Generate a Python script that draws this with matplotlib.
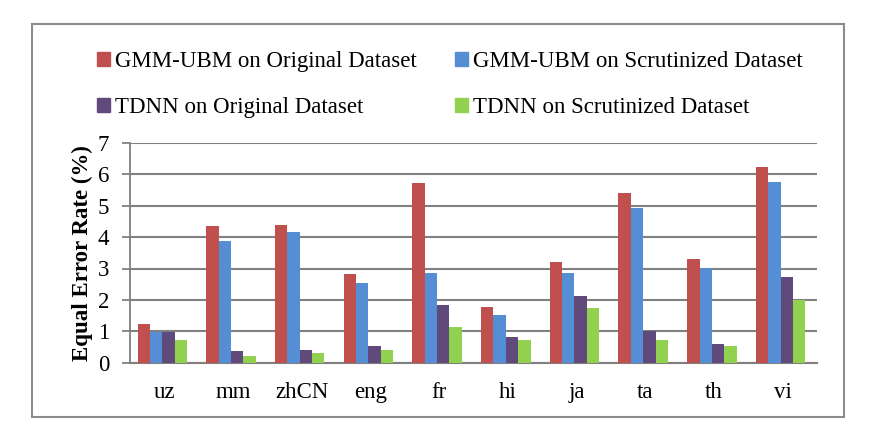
import matplotlib
matplotlib.use("Agg")
import matplotlib.pyplot as plt
import numpy as np
from matplotlib.patches import Rectangle, Patch

categories = ["uz", "mm", "zhCN", "eng", "fr", "hi", "ja", "ta", "th", "vi"]
gmm_orig = [1.23, 4.36, 4.37, 2.81, 5.71, 1.77, 3.22, 5.40, 3.30, 6.24]
gmm_scrut = [0.98, 3.88, 4.16, 2.55, 2.85, 1.51, 2.86, 4.92, 3.02, 5.76]
tdnn_orig = [0.98, 0.37, 0.39, 0.54, 1.84, 0.82, 2.11, 1.00, 0.60, 2.73]
tdnn_scrut = [0.71, 0.20, 0.31, 0.40, 1.14, 0.71, 1.73, 0.72, 0.53, 2.00]
series_labels = ["GMM-UBM on Original Dataset", "GMM-UBM on Scrutinized Dataset",
                 "TDNN on Original Dataset", "TDNN on Scrutinized Dataset"]
yticks = [0, 1, 2, 3, 4, 5, 6, 7]

colors = ["#C0504D", "#558ED5", "#604A7B", "#92D050"]
serif = ["Liberation Serif", "DejaVu Serif"]
plt.rcParams["font.family"] = serif
FS = 16.5

W, H = 870, 441
fig = plt.figure(figsize=(W / 100, H / 100), dpi=100)
ax = fig.add_axes([130 / W, 1 - 362.7 / H, (817 - 130) / W, (362.7 - 142.9) / H])

x = np.arange(len(categories))
bw = 0.18
data = [gmm_orig, gmm_scrut, tdnn_orig, tdnn_scrut]
for i, (vals, c) in enumerate(zip(data, colors)):
    ax.bar(x + (i - 1.5) * bw - 0.03, vals, width=bw, color=c, zorder=3, linewidth=0)

ax.set_xlim(-0.5, len(categories) - 0.5)
ax.set_ylim(0, 7)
ax.set_yticks(yticks)
ax.set_yticklabels([str(t) for t in yticks], fontsize=FS)
ax.set_xticks(x)
ax.set_xticklabels(categories, fontsize=FS)
ax.yaxis.grid(True, color="#808080", linewidth=1.5, zorder=1)
ax.set_axisbelow(True)
for s in ["top", "right"]:
    ax.spines[s].set_visible(False)
ax.spines["left"].set_color("#808080")
ax.spines["bottom"].set_color("#808080")
ax.spines["left"].set_linewidth(1.3)
ax.spines["bottom"].set_linewidth(1.5)
ax.tick_params(axis="y", length=6, color="#808080", width=1.3, pad=9)
ax.tick_params(axis="x", length=0, pad=14)
ax.set_ylabel("Equal Error Rate (%)", fontsize=FS, fontweight="bold", labelpad=3)

handles = [Patch(color=c) for c in colors]
order = [0, 2, 1, 3]
fig.legend([handles[i] for i in order], [series_labels[i] for i in order],
           ncol=2, loc="upper left", bbox_to_anchor=(86 / W, 1 - 40 / H),
           frameon=False, fontsize=FS, handlelength=0.55, handleheight=0.55,
           handletextpad=0.2, columnspacing=1.7, labelspacing=1.07, borderpad=0)

fig.add_artist(Rectangle((32 / W, 1 - 417 / H), (844 - 32) / W, (417 - 24) / H,
                         transform=fig.transFigure, fill=False,
                         edgecolor="#8c8c8c", linewidth=1.5))

fig.savefig("out.png", dpi=100)
